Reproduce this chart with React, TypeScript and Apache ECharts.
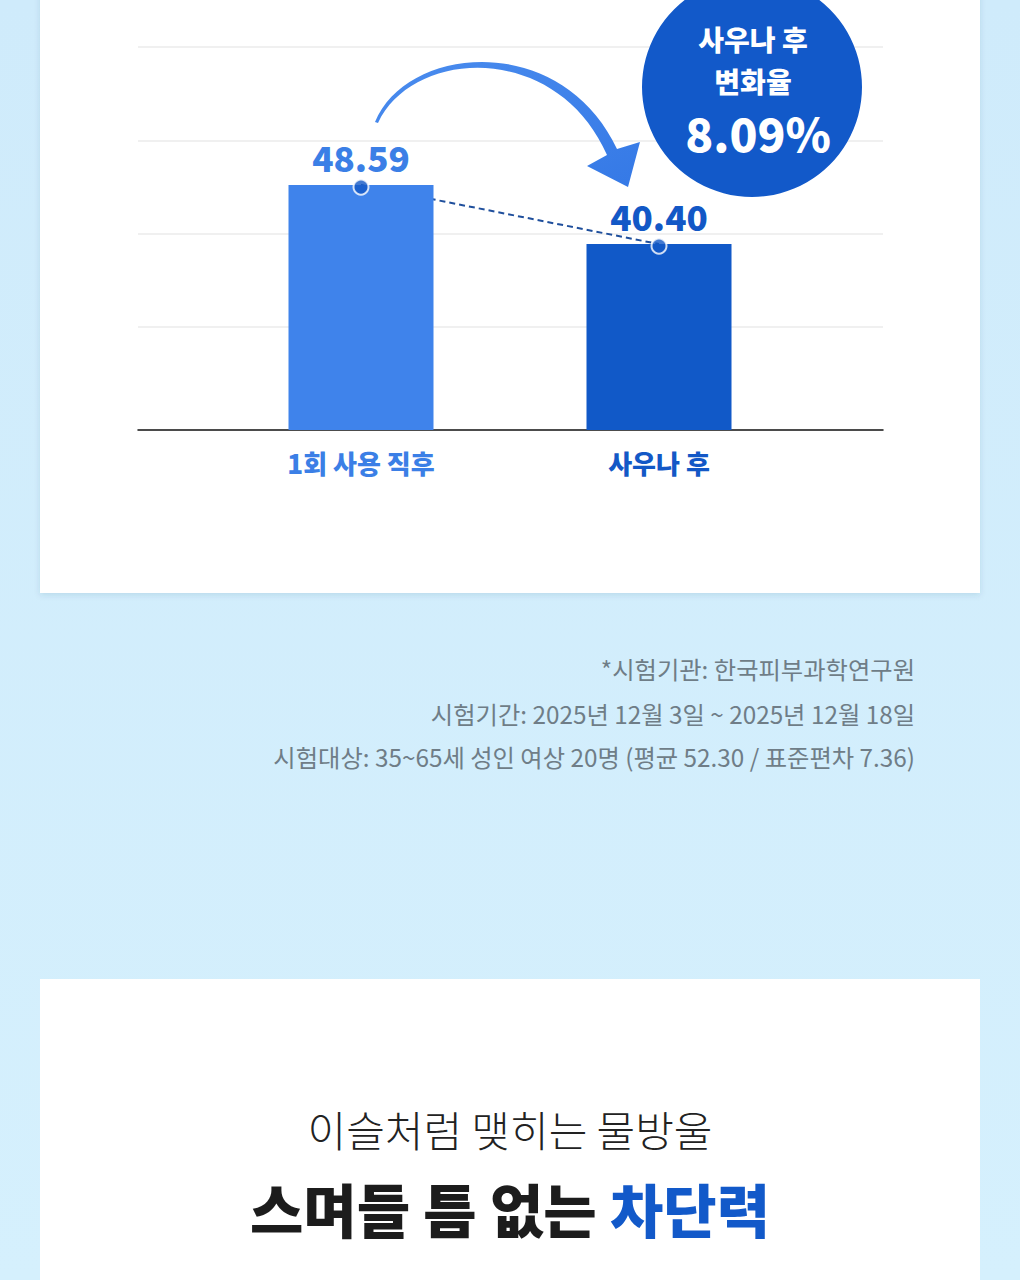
import React, { useEffect, useRef } from "react";
import * as echarts from "echarts";

const categories = ["1회 사용 직후", "사우나 후"];
const values = [48.59, 40.4];
const changeTitle = ["사우나 후", "변화율"];
const changeRate = "8.09%";
const footnotes = [
  "*시험기관: 한국피부과학연구원",
  "시험기간: 2025년 12월 3일 ~ 2025년 12월 18일",
  "시험대상: 35~65세 성인 여상 20명 (평균 52.30 / 표준편차 7.36)",
];
const subHeadline = "이슬처럼 맺히는 물방울";
const headlineDark = "스며들 틈 없는 ";
const headlineBlue = "차단력";

const FONT = "'Noto Sans CJK KR', 'Noto Sans', sans-serif";
const barColors = ["#3f83eb", "#1159c8"];
const labelColors = ["#3b7fe6", "#1358c6"];

const arrowPath =
  "M 375 122 C 407 44, 562 31, 617 149 L 640 142 L 628 187 L 587 166 L 607 155 C 557 41, 413 48, 378 123 Z";

let registered = false;

export default function App() {
  const ref = useRef<HTMLDivElement>(null);
  useEffect(() => {
    if (!registered) {
      echarts.graphic.registerShape("curvedArrow", echarts.graphic.extendPath(arrowPath, {}));
      registered = true;
    }
    const chart = echarts.init(ref.current!, null, { renderer: "svg" });
    const option: any = {
      animation: false,
      backgroundColor: {
        type: "linear", x: 0, y: 0, x2: 0, y2: 1,
        colorStops: [
          { offset: 0, color: "#cfebfb" },
          { offset: 1, color: "#d5f0fd" },
        ],
      },
      grid: [
        { left: 138, width: 745, top: 47, height: 373.6 },
        { left: 212, width: 596, top: 47, height: 383 },
      ],
      xAxis: [
        {
          gridIndex: 0, type: "value", min: 0, max: 1, position: "bottom", offset: 9.4,
          axisLine: { show: true, onZero: false, lineStyle: { color: "#111", width: 1.5 } },
          axisTick: { show: false }, axisLabel: { show: false }, splitLine: { show: false },
        },
        {
          gridIndex: 1, type: "category", data: categories,
          axisLine: { show: false }, axisTick: { show: false },
          axisLabel: {
            margin: 19,
            formatter: (v: string, i: number) => `{c${i}|${v}}`,
            rich: {
              c0: { color: labelColors[0], fontSize: 26, fontWeight: 900, fontFamily: FONT },
              c1: { color: labelColors[1], fontSize: 26, fontWeight: 900, fontFamily: FONT },
            },
          },
        },
      ],
      yAxis: [
        {
          gridIndex: 0, type: "value", min: 0, max: 4, interval: 1,
          axisLine: { show: false }, axisTick: { show: false }, axisLabel: { show: false },
          splitLine: { show: true, showMinLine: false, lineStyle: { color: "#ebebeb", width: 1.5 } },
        },
        {
          gridIndex: 1, type: "value", min: 14.6, max: 67.75, show: false,
          splitLine: { show: false },
        },
      ],
      series: [
        {
          type: "line", xAxisIndex: 1, yAxisIndex: 1, data: values, z: 1,
          showSymbol: false, symbol: "none",
          lineStyle: { color: "#1f4f9c", width: 2, type: [6, 4] },
        },
        {
          type: "bar", xAxisIndex: 1, yAxisIndex: 1, barWidth: 145, z: 2,
          data: values.map((v, i) => ({
            value: v,
            itemStyle: { color: barColors[i] },
            label: { color: labelColors[i] },
          })),
          label: {
            show: true, position: "top", distance: 11,
            fontSize: 35, fontWeight: 900, fontFamily: FONT,
            formatter: (p: any) => Number(p.value).toFixed(2),
          },
        },
        {
          type: "scatter", xAxisIndex: 1, yAxisIndex: 1, data: values, z: 3,
          symbolSize: 15, symbolOffset: [0, 2],
          itemStyle: { color: "#1358c6", borderColor: "#ffffff", borderWidth: 2 },
        },
      ],
      graphic: [
        {
          type: "rect", z: -10,
          shape: { x: 40, y: -20, width: 940, height: 613 },
          style: { fill: "#ffffff", shadowBlur: 6, shadowOffsetY: 2, shadowColor: "rgba(0,70,100,0.12)" },
        },
        {
          type: "rect", z: -10,
          shape: { x: 40, y: 979, width: 940, height: 320 },
          style: { fill: "#ffffff" },
        },
        {
          type: "curvedArrow", x: 0, y: 0, z: 10,
          style: {
            fill: {
              type: "linear", x: 0, y: 0, x2: 1, y2: 1,
              colorStops: [
                { offset: 0, color: "#4a8cee" },
                { offset: 1, color: "#3579e6" },
              ],
            },
          },
        },
        {
          type: "circle", z: 10,
          shape: { cx: 752, cy: 87, r: 110 },
          style: { fill: "#1259c9" },
        },
        {
          type: "text", z: 11, x: 753, y: 39,
          style: {
            text: changeTitle[0], textAlign: "center", textVerticalAlign: "middle",
            fontSize: 28, fontWeight: 900, fontFamily: FONT, fill: "#ffffff",
          },
        },
        {
          type: "text", z: 11, x: 753, y: 81,
          style: {
            text: changeTitle[1], textAlign: "center", textVerticalAlign: "middle",
            fontSize: 28, fontWeight: 900, fontFamily: FONT, fill: "#ffffff",
          },
        },
        {
          type: "text", z: 11, x: 758, y: 132,
          style: {
            text: changeRate, textAlign: "center", textVerticalAlign: "middle",
            fontSize: 46, fontWeight: 900, fontFamily: FONT, fill: "#ffffff",
          },
        },
        ...footnotes.map((t, i) => ({
          type: "text", x: 915, y: [668, 713, 756][i],
          style: {
            text: t, textAlign: "right", textVerticalAlign: "middle",
            fontSize: 24.3, fontFamily: FONT, fill: "#6f7d87",
          },
        })),
        {
          type: "text", x: 510, y: 1128,
          style: {
            text: subHeadline, textAlign: "center", textVerticalAlign: "middle",
            fontSize: 42, fontWeight: 300, fontFamily: FONT, fill: "#222222",
          },
        },
        {
          type: "text", x: 510, y: 1208,
          style: {
            text: `{a|${headlineDark}}{b|${headlineBlue}}`,
            textAlign: "center", textVerticalAlign: "middle",
            rich: {
              a: { fontSize: 58, fontWeight: 900, fontFamily: FONT, fill: "#1c1c1c", color: "#1c1c1c" },
              b: { fontSize: 58, fontWeight: 900, fontFamily: FONT, fill: "#1259c9", color: "#1259c9" },
            },
          },
        },
      ],
    };
    chart.setOption(option);
    return () => chart.dispose();
  }, []);
  return (
    <div
      ref={ref}
      style={{ position: "absolute", left: 0, top: 0, width: 1020, height: 1280 }}
    />
  );
}
